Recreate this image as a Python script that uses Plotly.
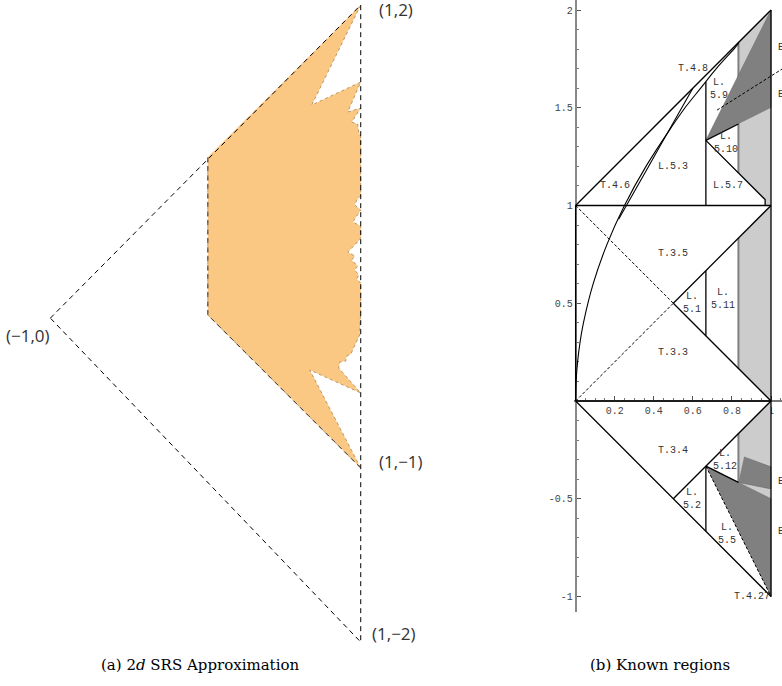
import plotly.graph_objects as go

# %% (a) 2d SRS approximation

# outline of the approximated region, read clockwise from the top corner
srs_x = [1.0, 0.68, 1.0, 0.915, 1.0, 0.941, 0.98, 0.987, 1.0, 1.0, 0.974, 0.961, 1.0, 0.98,
         0.948, 1.0, 1.0, 0.974, 0.915, 0.961, 0.941, 0.98, 0.961, 0.987, 0.974, 1.0, 1.0,
         0.993, 0.967, 0.954, 0.935, 0.908, 0.902, 0.863, 0.856, 1.0, 0.667, 1.0, 0.0, 0.0]
srs_y = [2.0, 1.355, 1.503, 1.31, 1.335, 1.245, 1.232, 1.181, 1.148, 0.768, 0.742, 0.71,
         0.677, 0.645, 0.6, 0.574, 0.497, 0.465, 0.406, 0.381, 0.355, 0.316, 0.29, 0.258,
         0.232, 0.206, 0.032, -0.129, -0.181, -0.213, -0.252, -0.265, -0.297, -0.303,
         -0.342, -0.503, -0.355, -0.987, 0.0, 1.019]

# outer dashed triangle and the dashed left part of the known region
tri_x = [-1.03, 1.0, 1.0, -1.03]
tri_y = [-0.02, 2.0, -2.11, -0.02]
box_x = [1.0, 0.0, 0.0]
box_y = [-0.987, 0.0, 1.019]

corner_text = ["(1,2)", "(1,\u22121)", "(\u22121,0)", "(1,\u22122)"]
corner_x = [1.105, 1.105, -1.02, 1.059]
corner_y = [1.968, -0.942, -0.129, -2.052]
corner_anchor = ["left", "left", "right", "left"]

# %% (b) Known regions

# light grey strips
light_x = [[0.8333, 0.8333, 1.0, 1.0, 0.97, 0.97],
           [0.8333, 0.8333, 1.0, 1.0],
           [0.8333, 1.0, 1.0, 0.8333]]
light_y = [[1.1667, 1.8333, 2.0, 1.0, 1.0, 1.03],
           [0.1667, 0.8333, 1.0, 0.0],
           [-0.1667, 0.0, -0.5, -0.4167]]
# dark grey pieces
dark_x = [[0.6667, 1.0, 1.0],
          [0.6667, 1.0, 1.0],
          [0.862, 1.0, 1.0, 0.8333]]
dark_y = [[1.3333, 2.0, 1.5],
          [-0.3333, -0.5, -1.0],
          [-0.286, -0.337, -0.45, -0.4167]]

# grey verticals at x = 5/6
grey_x = [0.8333, 0.8333, None, 0.8333, 0.8333, None, 0.8333, 0.8333]
grey_y = [1.1667, 1.8333, None, 0.1667, 0.8333, None, -0.1667, -0.4167]

# solid black boundaries
solid_x = [0, 1, None, 0, 1, None, 0, 0, None, 0, 1, None, 1, 1, None,
           0.5, 1, None, 0.5, 1, None, 0, 1, None, 0.5, 1, None,
           0.6667, 0.6667, None, 0.6667, 0.6667, None, 0.6667, 0.8333, None,
           0.6667, 0.6667, None, 0.6667, 0.97, 0.97, None, 0.6667, 0.8333]
solid_y = [1, 2, None, 1, 1, None, 0, 1, None, 0, 0, None, -1, 2, None,
           0.5, 0, None, 0.5, 1, None, 0, -1, None, -0.5, 0, None,
           0.3333, 0.6667, None, -0.3333, -0.6667, None, -0.3333, -0.4167, None,
           1.0, 1.633, None, 1.3333, 1.03, 1.0, None, 1.3333, 1.4167]

# dashed boundaries
dash_x = [0, 0.5, None, 0, 0.5, None, 0.6667, 1.0, None, 0.724, 1.06]
dash_y = [1, 0.5, None, 0, 0.5, None, -0.3333, -1.0, None, 1.488, 1.70]

# the two curves
curve_a_x = [0, 0.0025, 0.01, 0.0225, 0.04, 0.09, 0.16, 0.25, 0.36, 0.49, 0.56, 0.64, 0.72, 0.81, 0.835]
curve_a_y = [0, 0.1, 0.2, 0.3, 0.4, 0.6, 0.8, 1.0, 1.2, 1.4, 1.5, 1.6, 1.7, 1.8, 1.83]
curve_b_x = [0.22, 0.26, 0.43, 0.6]
curve_b_y = [0.93, 1.0, 1.3, 1.6]

lab_text = ["T.4.8", "L.<br>5.9", "L.<br>5.10", "L.5.3", "T.4.6", "L.5.7", "T.3.5", "T.3.3",
            "L.<br>5.1", "L.<br>5.11", "T.3.4", "L.<br>5.12", "L.<br>5.2", "L.<br>5.5", "T.4.27"]
lab_x = [0.60, 0.735, 0.768, 0.498, 0.201, 0.78, 0.498, 0.498,
         0.598, 0.752, 0.498, 0.767, 0.598, 0.777, 0.903]
lab_y = [1.703, 1.596, 1.322, 1.202, 1.10, 1.10, 0.757, 0.25,
         0.502, 0.522, -0.251, -0.304, -0.502, -0.678, -1.0]

e_text = ["E<sub>1</sub>", "E<sub>2</sub>", "E<sub>3</sub>", "E<sub>4</sub>"]
e_y = [1.806, 1.565, -0.414, -0.67]

x_ticks = [0.2, 0.4, 0.6, 0.8, 1]
x_ticktext = ["0.2", "0.4", "0.6", "0.8", "1"]
y_ticks = [-1, -0.5, 0.5, 1, 1.5, 2]
y_ticktext = ["-1", "-0.5", "0.5", "1", "1.5", "2"]

# %% Figure
fig = go.Figure()

# left panel
fig.add_trace(go.Scatter(x=srs_x, y=srs_y, mode="lines", fill="toself",
                         fillcolor="rgb(250,200,130)",
                         line=dict(color="rgb(170,130,80)", width=0.8, dash="dot"),
                         xaxis="x", yaxis="y", hoverinfo="skip"))
fig.add_trace(go.Scatter(x=tri_x, y=tri_y, mode="lines",
                         line=dict(color="black", width=1, dash="5px,4px"),
                         xaxis="x", yaxis="y", hoverinfo="skip"))
fig.add_trace(go.Scatter(x=box_x, y=box_y, mode="lines",
                         line=dict(color="#333", width=1, dash="5px,4px"),
                         xaxis="x", yaxis="y", hoverinfo="skip"))

# right panel: fills
for xs, ys in zip(light_x, light_y):
    fig.add_trace(go.Scatter(x=xs, y=ys, mode="lines", fill="toself", fillcolor="#cccccc",
                             line=dict(width=0), xaxis="x2", yaxis="y2", hoverinfo="skip"))
fig.add_trace(go.Scatter(x=grey_x, y=grey_y, mode="lines", line=dict(color="#808080", width=2),
                         xaxis="x2", yaxis="y2", hoverinfo="skip"))
for xs, ys in zip(dark_x, dark_y):
    fig.add_trace(go.Scatter(x=xs, y=ys, mode="lines", fill="toself", fillcolor="#808080",
                             line=dict(width=0.5, color="#606060"), xaxis="x2", yaxis="y2",
                             hoverinfo="skip"))

# right panel: lines
fig.add_trace(go.Scatter(x=solid_x, y=solid_y, mode="lines", line=dict(color="black", width=1.3),
                         xaxis="x2", yaxis="y2", hoverinfo="skip"))
fig.add_trace(go.Scatter(x=dash_x, y=dash_y, mode="lines",
                         line=dict(color="black", width=1, dash="3px,2px"),
                         xaxis="x2", yaxis="y2", hoverinfo="skip"))
fig.add_trace(go.Scatter(x=curve_a_x, y=curve_a_y, mode="lines", line=dict(color="black", width=1.1, shape="spline"),
                         xaxis="x2", yaxis="y2", hoverinfo="skip"))
fig.add_trace(go.Scatter(x=curve_b_x, y=curve_b_y, mode="lines", line=dict(color="black", width=1.1, shape="spline"),
                         xaxis="x2", yaxis="y2", hoverinfo="skip"))

annotations = []
for t, x, y, a in zip(corner_text, corner_x, corner_y, corner_anchor):
    annotations.append(dict(text=t, x=x, y=y, xref="x", yref="y", xanchor=a, showarrow=False,
                            font=dict(family="Open Sans", size=17, color="#333")))
for t, x, y in zip(lab_text, lab_x, lab_y):
    annotations.append(dict(text=t, x=x, y=y, xref="x2", yref="y2", showarrow=False,
                            font=dict(family="Liberation Mono", size=10, color="#333")))
for t, y in zip(e_text, e_y):
    annotations.append(dict(text=t, x=1.025, y=y, xref="x2", yref="y2", xanchor="left", showarrow=False,
                            font=dict(family="Liberation Mono", size=10, color="#333")))
annotations.append(dict(text="(a) 2<i>d</i> SRS Approximation", x=0.2558, y=0.0306, xref="paper", yref="paper",
                        xanchor="center", yanchor="middle", showarrow=False,
                        font=dict(family="DejaVu Serif", size=15, color="black")))
annotations.append(dict(text="(b) Known regions", x=0.844, y=0.0306, xref="paper", yref="paper",
                        xanchor="center", yanchor="middle", showarrow=False,
                        font=dict(family="DejaVu Serif", size=15, color="black")))

tickfont = dict(family="Liberation Mono", size=10, color="#444")
fig.update_layout(
    width=782, height=686,
    margin=dict(l=0, r=0, t=0, b=0),
    plot_bgcolor="white", paper_bgcolor="white",
    showlegend=False,
    annotations=annotations,
    xaxis=dict(domain=[0, 0.69], range=[-1.3595, 2.1699], visible=False),
    yaxis=dict(domain=[0, 1], range=[-2.3935, 2.0323], visible=False),
    xaxis2=dict(domain=[0.7336, 1], range=[-0.01, 1.0563], anchor="free", position=0.41545,
                showline=True, linecolor="#777", linewidth=2, showgrid=False, zeroline=False,
                ticks="inside", ticklen=4, tickcolor="#555", tickvals=x_ticks, ticktext=x_ticktext,
                tickfont=tickfont, layer="below traces",
                minor=dict(ticks="inside", ticklen=2, tick0=0, dtick=0.05, tickcolor="#777", showgrid=False)),
    yaxis2=dict(domain=[0.1079, 1], range=[-1.0793, 2.0512], anchor="free", position=0.73619,
                showline=True, linecolor="#888", linewidth=2, showgrid=False, zeroline=False,
                ticks="inside", ticklen=4, tickcolor="#555", tickvals=y_ticks, ticktext=y_ticktext,
                tickfont=tickfont, layer="below traces",
                minor=dict(ticks="inside", ticklen=2, tick0=0, dtick=0.1, tickcolor="#777", showgrid=False)),
)

# page body has a default margin; drop it so the figure sits at the window corner
fig.write_html("out.html", config={"displayModeBar": False},
               post_script="document.body.style.margin='0';")
